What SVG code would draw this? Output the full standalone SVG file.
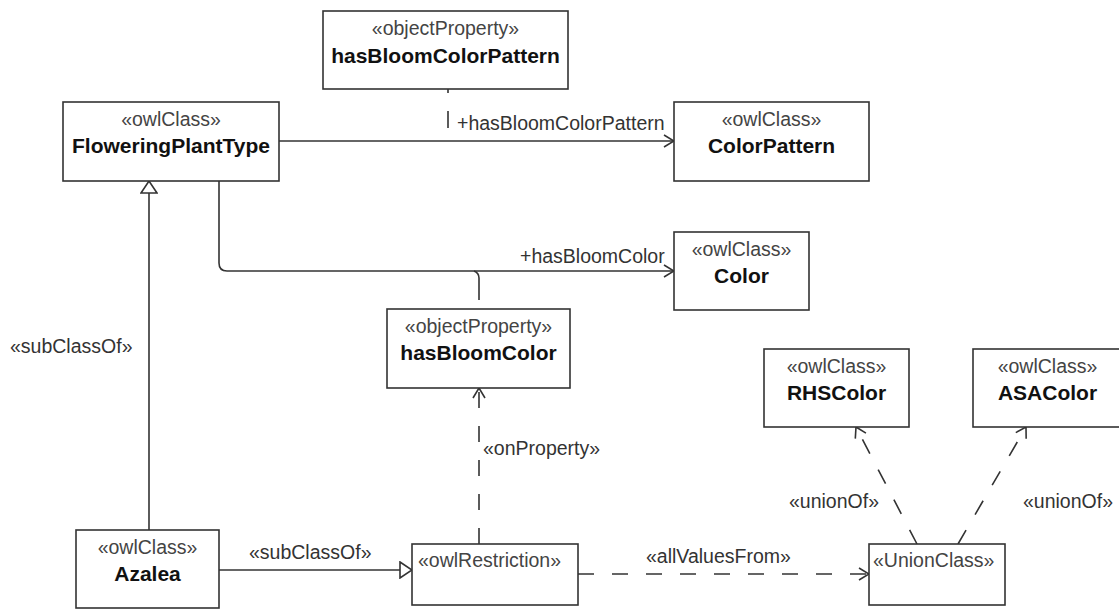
<svg xmlns="http://www.w3.org/2000/svg" width="1119" height="609" viewBox="0 0 1119 609">
<style>
.box{fill:#fff;stroke:#333;stroke-width:1.6}
.st{font-family:"Liberation Sans",Arial,sans-serif;font-size:19.5px;fill:#444}
.nm{font-family:"Liberation Sans",Arial,sans-serif;font-size:21px;font-weight:bold;fill:#111}
.lb{font-family:"Liberation Sans",Arial,sans-serif;font-size:19.5px;fill:#333}
.c{text-anchor:middle}
.ln{fill:none;stroke:#333;stroke-width:1.6}
.dash{stroke-dasharray:16 18}
</style>
<defs>
<marker id="open" viewBox="0 0 12 14" refX="11" refY="7" markerWidth="12" markerHeight="14" markerUnits="userSpaceOnUse" orient="auto">
<path d="M1,1 L11,7 L1,13" fill="none" stroke="#333" stroke-width="1.6"/>
</marker>
<marker id="tri" viewBox="0 0 14 18" refX="13" refY="9" markerWidth="14" markerHeight="18" markerUnits="userSpaceOnUse" orient="auto">
<path d="M1,1 L13,9 L1,17 Z" fill="#fff" stroke="#333" stroke-width="1.6"/>
</marker>
</defs>
<rect width="1119" height="609" fill="#fff"/>
<g id="connectors">
<path class="ln" d="M279,141 H674" marker-end="url(#open)"/>
<path class="ln" d="M448,89 V93 M448,111 V128"/>
<path class="ln" d="M219,181 V263 Q219,271 227,271 H674" marker-end="url(#open)"/>
<path class="ln" d="M479,300 V278 Q479,273 474,271"/>
<path class="ln" d="M149,530 V181" marker-end="url(#tri)"/>
<path class="ln" d="M219,570 H412" marker-end="url(#tri)"/>
<path class="ln dash" d="M479,544 V388" marker-end="url(#open)"/>
<path class="ln dash" d="M578,574 H869" marker-end="url(#open)"/>
<path class="ln dash" d="M917,544 L856,427" marker-end="url(#open)"/>
<path class="ln dash" d="M958,544 L1026,427" marker-end="url(#open)"/>
<text class="lb" x="457" y="130">+hasBloomColorPattern</text>
<text class="lb" x="520" y="263">+hasBloomColor</text>
<text class="lb" x="10" y="353">«subClassOf»</text>
<text class="lb" x="249" y="559">«subClassOf»</text>
<text class="lb" x="483" y="455">«onProperty»</text>
<text class="lb" x="646" y="563">«allValuesFrom»</text>
<text class="lb" x="789" y="508">«unionOf»</text>
<text class="lb" x="1023" y="508">«unionOf»</text>
</g>
<g id="hasBloomColorPattern">
<rect class="box" x="323" y="11" width="245" height="78"/>
<text class="st c" x="445.5" y="35">«objectProperty»</text>
<text class="nm c" x="445.5" y="63">hasBloomColorPattern</text>
</g>
<g id="FloweringPlantType">
<rect class="box" x="63" y="102" width="216" height="79"/>
<text class="st c" x="171" y="126">«owlClass»</text>
<text class="nm c" x="171" y="153">FloweringPlantType</text>
</g>
<g id="ColorPattern">
<rect class="box" x="674" y="102" width="195" height="79"/>
<text class="st c" x="771.5" y="126">«owlClass»</text>
<text class="nm c" x="771.5" y="153">ColorPattern</text>
</g>
<g id="Color">
<rect class="box" x="674" y="232" width="135" height="78"/>
<text class="st c" x="741.5" y="256">«owlClass»</text>
<text class="nm c" x="741.5" y="283">Color</text>
</g>
<g id="hasBloomColor">
<rect class="box" x="387" y="309" width="183" height="79"/>
<text class="st c" x="478.5" y="333">«objectProperty»</text>
<text class="nm c" x="478.5" y="360">hasBloomColor</text>
</g>
<g id="RHSColor">
<rect class="box" x="764" y="349" width="145" height="78"/>
<text class="st c" x="836.5" y="373">«owlClass»</text>
<text class="nm c" x="836.5" y="400">RHSColor</text>
</g>
<g id="ASAColor">
<rect class="box" x="973" y="349" width="149" height="78"/>
<text class="st c" x="1047.5" y="373">«owlClass»</text>
<text class="nm c" x="1047.5" y="400">ASAColor</text>
</g>
<g id="Azalea">
<rect class="box" x="76" y="530" width="143" height="78"/>
<text class="st c" x="147.5" y="554">«owlClass»</text>
<text class="nm c" x="147.5" y="581">Azalea</text>
</g>
<g id="owlRestriction">
<rect class="box" x="412" y="544" width="166" height="61"/>
<text class="st" x="418" y="567">«owlRestriction»</text>
</g>
<g id="UnionClass">
<rect class="box" x="869" y="544" width="136" height="61"/>
<text class="st" x="873" y="567">«UnionClass»</text>
</g>
</svg>
